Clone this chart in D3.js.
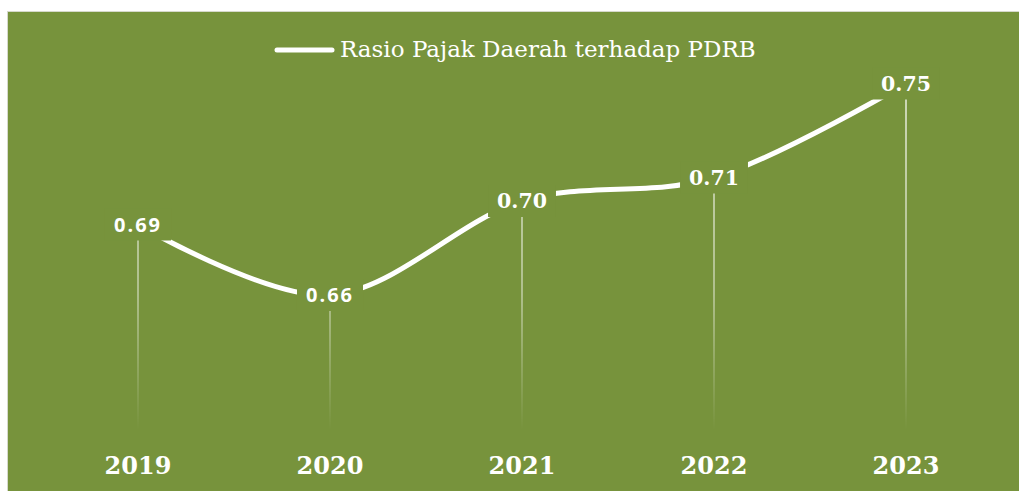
<!DOCTYPE html>
<html>
<head>
<meta charset="utf-8">
<script src="https://cdn.jsdelivr.net/npm/d3@7"></script>
<style>
  html, body { margin: 0; padding: 0; background: #ffffff; }
  svg { display: block; }
</style>
</head>
<body>
<svg id="chart" width="1019" height="491"></svg>
<script>
// Regional tax to GRDP ratio, by year
const years = ["2019", "2020", "2021", "2022", "2023"];
const ratios = [0.69, 0.66, 0.70, 0.71, 0.75];
const valueLabels = ["0.69", "0.66", "0.70", "0.71", "0.75"];
const seriesName = "Rasio Pajak Daerah terhadap PDRB";
const yDomain = [0.60, 0.76];

const W = 1019, H = 491;
const bg = "#77933c";
const serif = "'DejaVu Serif', 'Liberation Serif', serif";
const sans = "'Open Sans', 'Noto Sans', sans-serif";

const svg = d3.select("#chart");

// chart area with thin outer border
svg.append("rect").attr("x", 7.5).attr("y", 11.5).attr("width", W).attr("height", H)
  .attr("fill", bg).attr("stroke", "#d6d9cc").attr("stroke-width", 1);

const x = d3.scalePoint().domain(years).range([138, 906]);
const y = d3.scaleLinear().domain(yDomain).range([436, 60]);

// fading drop-line gradient
const defs = svg.append("defs");
const grad = defs.append("linearGradient").attr("id", "dropFade")
  .attr("gradientUnits", "userSpaceOnUse")
  .attr("x1", 0).attr("x2", 0).attr("y1", 90).attr("y2", 430);
grad.append("stop").attr("offset", "0").attr("stop-color", "#ffffff").attr("stop-opacity", 0.85);
grad.append("stop").attr("offset", "0.6").attr("stop-color", "#ffffff").attr("stop-opacity", 0.55);
grad.append("stop").attr("offset", "1").attr("stop-color", "#ffffff").attr("stop-opacity", 0);

const data = years.map((yr, i) => ({ yr, v: ratios[i], label: valueLabels[i], i }));

// drop lines from each point to the category axis
svg.append("g").selectAll("line").data(data).join("line")
  .attr("x1", d => x(d.yr)).attr("x2", d => x(d.yr))
  .attr("y1", d => y(d.v)).attr("y2", 430)
  .attr("stroke", "url(#dropFade)").attr("stroke-width", 1.5);

// smoothed series line
const line = d3.line()
  .x(d => x(d.yr)).y(d => y(d.v))
  .curve(d3.curveCardinal.tension(0));
svg.append("path").datum(data)
  .attr("d", line)
  .attr("fill", "none").attr("stroke", "#ffffff")
  .attr("stroke-width", 5).attr("stroke-linecap", "butt");

// value labels on background-filled boxes
const lab = svg.append("g").selectAll("g").data(data).join("g")
  .attr("transform", d => `translate(${x(d.yr)},${y(d.v)})`);
const txt = lab.append("text")
  .attr("text-anchor", "middle").attr("dy", "0.36em")
  .attr("font-family", d => d.i < 2 ? sans : serif)
  .attr("font-weight", "bold")
  .attr("font-size", d => d.i < 2 ? 20 : 20.5)
  .attr("letter-spacing", d => d.i < 2 ? 2 : 0)
  .attr("fill", "#ffffff")
  .text(d => d.label);
txt.each(function () {
  const b = this.getBBox();
  d3.select(this.parentNode).insert("rect", "text")
    .attr("x", b.x - 9).attr("y", -16)
    .attr("width", b.width + 18).attr("height", 32)
    .attr("fill", bg);
});

// category axis labels
svg.append("g").selectAll("text").data(years).join("text")
  .attr("x", d => x(d)).attr("y", 474)
  .attr("text-anchor", "middle")
  .attr("font-family", serif).attr("font-weight", "bold").attr("font-size", 24)
  .attr("fill", "#ffffff")
  .text(d => d);

// legend
const lg = svg.append("g");
lg.append("line").attr("x1", 277).attr("x2", 332).attr("y1", 50).attr("y2", 50)
  .attr("stroke", "#ffffff").attr("stroke-width", 5).attr("stroke-linecap", "round");
lg.append("text").attr("x", 340).attr("y", 57)
  .attr("font-family", serif).attr("font-size", 23).attr("fill", "#ffffff")
  .text(seriesName);
</script>
</body>
</html>
